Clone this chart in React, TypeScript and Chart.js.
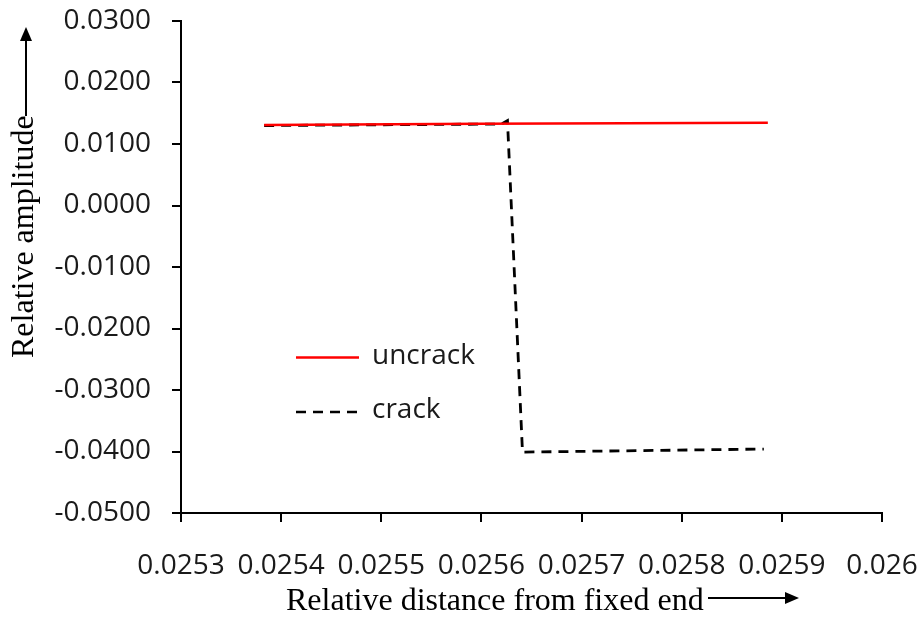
import React, { useEffect, useRef } from 'react';
import { Chart, registerables } from 'chart.js';

Chart.register(...registerables);

// Axis ticks
const xTickValues = [0.0253, 0.0254, 0.0255, 0.0256, 0.0257, 0.0258, 0.0259, 0.026];
const xTickLabels = ['0.0253', '0.0254', '0.0255', '0.0256', '0.0257', '0.0258', '0.0259', '0.026'];
const yTickValues = [-0.05, -0.04, -0.03, -0.02, -0.01, 0, 0.01, 0.02, 0.03];
const yTickLabels = ['-0.0500', '-0.0400', '-0.0300', '-0.0200', '-0.0100', '0.0000', '0.0100', '0.0200', '0.0300'];

// Series: uncrack (red solid)
const uncrackX = [0.025383, 0.0256, 0.025886];
const uncrackY = [0.0131, 0.0133, 0.01346];

// Series: crack (black dashed)
const crackX = [0.025383, 0.02562, 0.025626, 0.025641, 0.025882];
const crackY = [0.0130, 0.01325, 0.0138, -0.0401, -0.0396];

const seriesNames = ['uncrack', 'crack'];
const xTitle = 'Relative distance from fixed end';
const yTitle = 'Relative amplitude';

const TICK_FONT = 'Open Sans';
const TITLE_FONT = 'Liberation Serif';

const decorPlugin = {
  id: 'decor',
  afterDraw(chart: any) {
    const ctx = chart.ctx as CanvasRenderingContext2D;
    ctx.save();
    ctx.fillStyle = '#000';
    ctx.strokeStyle = '#000';

    // X title + arrow
    ctx.font = `32px "${TITLE_FONT}"`;
    ctx.textAlign = 'left';
    ctx.textBaseline = 'alphabetic';
    ctx.fillText(xTitle, 286, 610);
    ctx.lineWidth = 2;
    ctx.beginPath();
    ctx.moveTo(708, 598);
    ctx.lineTo(788, 598);
    ctx.stroke();
    ctx.beginPath();
    ctx.moveTo(799, 598);
    ctx.lineTo(785, 592);
    ctx.lineTo(785, 604);
    ctx.closePath();
    ctx.fill();

    // Y title + arrow
    ctx.save();
    ctx.translate(33, 358);
    ctx.rotate(-Math.PI / 2);
    ctx.fillText(yTitle, 0, 0);
    ctx.restore();
    ctx.beginPath();
    ctx.moveTo(26, 116);
    ctx.lineTo(26, 38);
    ctx.stroke();
    ctx.beginPath();
    ctx.moveTo(26, 27);
    ctx.lineTo(20, 41);
    ctx.lineTo(32, 41);
    ctx.closePath();
    ctx.fill();

    // Legend
    ctx.font = `28px "${TICK_FONT}"`;
    ctx.textBaseline = 'middle';
    ctx.fillStyle = '#1a1a1a';
    ctx.strokeStyle = '#ff0000';
    ctx.lineWidth = 2.5;
    ctx.beginPath();
    ctx.moveTo(296, 357.5);
    ctx.lineTo(359, 357.5);
    ctx.stroke();
    ctx.fillText(seriesNames[0], 372, 356);

    ctx.strokeStyle = '#000';
    ctx.lineWidth = 2.5;
    ctx.setLineDash([10, 7]);
    ctx.beginPath();
    ctx.moveTo(296, 412);
    ctx.lineTo(359, 412);
    ctx.stroke();
    ctx.setLineDash([]);
    ctx.fillText(seriesNames[1], 372, 410);

    ctx.restore();
  },
};

export default function App() {
  const canvasRef = useRef<HTMLCanvasElement | null>(null);

  useEffect(() => {
    document.body.style.margin = '0';
    const canvas = canvasRef.current;
    if (!canvas) return;
    const chart = new Chart(canvas, {
      type: 'line',
      data: {
        datasets: [
          {
            label: seriesNames[0],
            data: uncrackX.map((x, i) => ({ x, y: uncrackY[i] })),
            borderColor: '#ff0000',
            borderWidth: 2.5,
            pointRadius: 0,
            tension: 0,
            fill: false,
          },
          {
            label: seriesNames[1],
            data: crackX.map((x, i) => ({ x, y: crackY[i] })),
            borderColor: '#000000',
            borderWidth: 2.8,
            borderDash: [10, 7],
            pointRadius: 0,
            tension: 0,
            fill: false,
          },
        ],
      },
      options: {
        responsive: false,
        animation: false,
        devicePixelRatio: 1,
        layout: { padding: { left: 0, right: 39, top: 21, bottom: 0 } },
        plugins: {
          legend: { display: false },
          tooltip: { enabled: false },
        },
        scales: {
          x: {
            type: 'linear',
            min: xTickValues[0],
            max: xTickValues[xTickValues.length - 1],
            afterBuildTicks: (s: any) => {
              s.ticks = xTickValues.map((v) => ({ value: v }));
            },
            afterFit: (s: any) => {
              s.height = 105;
              s.paddingLeft = 0;
              s.paddingRight = 0;
            },
            ticks: {
              callback: (_v: any, i: number) => xTickLabels[i],
              font: { family: TICK_FONT, size: 28 },
              color: '#1a1a1a',
              padding: 27,
              maxRotation: 0,
              autoSkip: false,
            },
            grid: {
              display: true,
              drawOnChartArea: false,
              drawTicks: true,
              tickLength: 9,
              color: '#000',
              lineWidth: 2,
            },
            border: { display: true, color: '#000', width: 2 },
          },
          y: {
            type: 'linear',
            min: yTickValues[0],
            max: yTickValues[yTickValues.length - 1],
            afterBuildTicks: (s: any) => {
              s.ticks = yTickValues.map((v) => ({ value: v }));
            },
            afterFit: (s: any) => {
              s.width = 181;
              s.paddingTop = 0;
              s.paddingBottom = 0;
            },
            ticks: {
              callback: (_v: any, i: number) => yTickLabels[i],
              font: { family: TICK_FONT, size: 28 },
              color: '#1a1a1a',
              padding: 21,
              autoSkip: false,
            },
            grid: {
              display: true,
              drawOnChartArea: false,
              drawTicks: true,
              tickLength: 9,
              color: '#000',
              lineWidth: 2,
            },
            border: { display: true, color: '#000', width: 2 },
          },
        },
      },
      plugins: [decorPlugin],
    } as any);
    return () => chart.destroy();
  }, []);

  return (
    <div style={{ position: 'absolute', left: 0, top: 0, width: 921, height: 618, background: '#fff' }}>
      <canvas ref={canvasRef} width={921} height={618} style={{ width: 921, height: 618, display: 'block' }} />
    </div>
  );
}
